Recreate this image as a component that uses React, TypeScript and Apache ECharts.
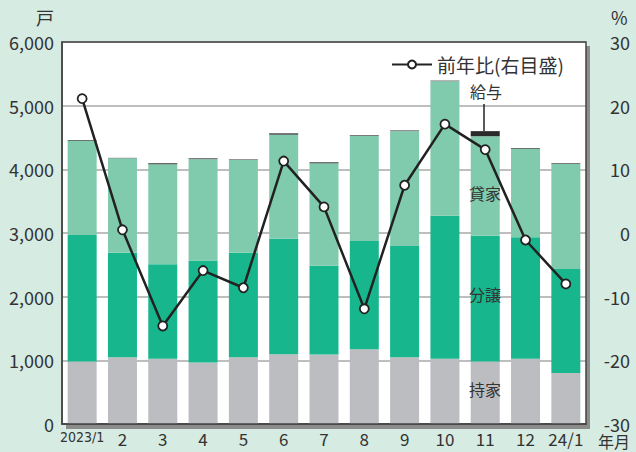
import React, { useEffect, useRef } from "react";
import * as echarts from "echarts";

const categories = ["2023/1", "2", "3", "4", "5", "6", "7", "8", "9", "10", "11", "12", "24/1"];
const owner = [980, 1050, 1025, 965, 1050, 1095, 1090, 1175, 1050, 1025, 980, 1025, 800];
const condo = [1990, 1640, 1485, 1605, 1640, 1815, 1395, 1700, 1745, 2245, 1975, 1910, 1635];
const rental = [1480, 1485, 1570, 1590, 1455, 1635, 1610, 1650, 1805, 2115, 1565, 1390, 1650];
const company = [10, 5, 15, 12, 10, 20, 15, 10, 10, 8, 80, 10, 10];
const yoy = [21.1, 0.5, -14.6, -5.9, -8.6, 11.3, 4.1, -11.9, 7.5, 17.1, 13.1, -1.1, -8.0];
const leftTicks = [0, 1000, 2000, 3000, 4000, 5000, 6000];
const rightTicks = [-30, -20, -10, 0, 10, 20, 30];

const FONT = "'Noto Sans CJK JP', 'Noto Sans', sans-serif";
const NARROW = "'Liberation Sans Narrow', 'DejaVu Sans Condensed', 'Noto Sans CJK JP', sans-serif";
const TXT = "#333333";

export default function App() {
  const ref = useRef<HTMLDivElement>(null);
  useEffect(() => {
    if (!ref.current) return;
    const chart = echarts.init(ref.current, null, { renderer: "svg" });
    const L = 62, R = 586, T = 42, B = 424;
    const barCommon = { type: "bar", stack: "total", barWidth: 29, yAxisIndex: 0 };
    chart.setOption({
      animation: false,
      backgroundColor: "#d6ebe2",
      grid: { left: L, right: 636 - R, top: T, bottom: 452 - B, show: false },
      legend: {
        data: ["前年比(右目盛)"],
        left: 386,
        top: 50,
        itemWidth: 40,
        itemHeight: 10,
        itemGap: 8,
        textStyle: { fontFamily: FONT, fontSize: 19, color: TXT },
      },
      xAxis: {
        type: "category",
        data: categories,
        axisLine: { show: true, lineStyle: { color: "#444", width: 1.5 } },
        axisTick: { show: false },
        axisLabel: {
          color: TXT,
          fontFamily: FONT,
          fontSize: 17,
          margin: 6,
          interval: 0,
          formatter: (v: string) => (v === "2023/1" ? "{n|" + v + "}" : v),
          rich: { n: { fontFamily: NARROW, fontSize: 14, color: TXT } },
        },
      },
      yAxis: [
        {
          type: "value",
          min: 0,
          max: 6000,
          interval: 1000,
          position: "left",
          axisLine: { show: true, lineStyle: { color: "#444", width: 1.5 } },
          axisTick: { show: false },
          splitLine: { show: true, lineStyle: { color: "#a9a9a9", width: 1.5 } },
          axisLabel: {
            color: TXT,
            fontFamily: FONT,
            fontSize: 18,
            margin: 8,
            formatter: (v: number) => (leftTicks.includes(v) ? v.toLocaleString("en-US") : ""),
          },
        },
        {
          type: "value",
          min: -30,
          max: 30,
          interval: 10,
          position: "right",
          axisLine: { show: false },
          axisTick: { show: false },
          splitLine: { show: false },
          axisLabel: {
            color: TXT,
            fontFamily: FONT,
            fontSize: 18,
            lineHeight: 16,
            padding: [0, 0, 4, 0],
            align: "right",
            margin: 44,
            formatter: (v: number) => (rightTicks.includes(v) ? String(v) : ""),
          },
        },
      ],
      graphic: [
        { type: "rect", z: -10, shape: { x: L + 4, y: T + 4, width: R - L, height: B - T + 1 }, style: { fill: "#8c8c8c" } },
        { type: "rect", z: -9, shape: { x: L, y: T, width: R - L, height: B - T }, style: { fill: "#ffffff" } },
        { type: "rect", z: 100, shape: { x: L, y: T, width: R - L, height: B - T }, style: { fill: "none", stroke: "#444", lineWidth: 1.5 } },
        { type: "text", z: 100, left: 36, top: 8, style: { text: "戸", font: "18px " + FONT, fill: TXT } },
        { type: "text", z: 100, left: 611, top: 8, style: { text: "%", font: "18px " + FONT, fill: TXT } },
        { type: "text", z: 100, left: 598, top: 433, style: { text: "年月", font: "16px " + FONT, lineHeight: 16, fill: TXT } },
        { type: "text", z: 100, left: 470, top: 83, style: { text: "給与", font: "16px " + FONT, fill: TXT } },
        { type: "line", z: 100, shape: { x1: 484, y1: 104, x2: 484, y2: 131 }, style: { stroke: "#222", lineWidth: 1.5 } },
        { type: "text", z: 100, left: 469, top: 185, style: { text: "貸家", font: "16px " + FONT, fill: TXT } },
        { type: "text", z: 100, left: 469, top: 286, style: { text: "分譲", font: "16px " + FONT, fill: TXT } },
        { type: "text", z: 100, left: 469, top: 381, style: { text: "持家", font: "16px " + FONT, fill: TXT } },
      ],
      series: [
        { ...barCommon, name: "持家", data: owner, itemStyle: { color: "#bcbdc1" } },
        { ...barCommon, name: "分譲", data: condo, itemStyle: { color: "#17b68c" } },
        { ...barCommon, name: "貸家", data: rental, itemStyle: { color: "#80cbae" } },
        { ...barCommon, name: "給与", data: company, itemStyle: { color: "#2b2b2b" } },
        {
          type: "line",
          name: "前年比(右目盛)",
          yAxisIndex: 1,
          data: yoy,
          z: 10,
          symbol: "circle",
          symbolSize: 9,
          lineStyle: { color: "#222", width: 2.5 },
          itemStyle: { color: "#ffffff", borderColor: "#222", borderWidth: 1.8 },
        },
      ],
    });
    return () => chart.dispose();
  }, []);
  return (
    <div
      ref={ref}
      style={{ position: "fixed", left: 0, top: 0, width: 636, height: 452 }}
    />
  );
}
